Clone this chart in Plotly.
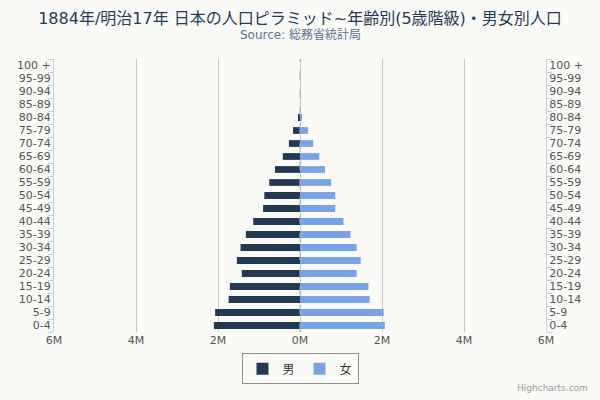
import plotly.graph_objects as go

# 5歳階級 (下から上へ)
age_groups = ["0-4", "5-9", "10-14", "15-19", "20-24", "25-29", "30-34",
              "35-39", "40-44", "45-49", "50-54", "55-59", "60-64", "65-69",
              "70-74", "75-79", "80-84", "85-89", "90-94", "95-99", "100 +"]

# 人口 (百万人) - 図から読み取り
male = [2.10, 2.07, 1.74, 1.71, 1.42, 1.54, 1.45, 1.32, 1.14, 0.90, 0.87,
        0.75, 0.61, 0.42, 0.27, 0.17, 0.04, 0.0, 0.0, 0.0, 0.0]
female = [2.07, 2.04, 1.70, 1.67, 1.38, 1.48, 1.38, 1.23, 1.06, 0.86, 0.86,
          0.76, 0.61, 0.47, 0.32, 0.20, 0.05, 0.0, 0.0, 0.0, 0.0]

x_ticks = [-6, -4, -2, 0, 2, 4, 6]
x_labels = ["6M", "4M", "2M", "0M", "2M", "4M", "6M"]

font_main = "Lucida Grande, DejaVu Sans, Noto Sans CJK JP, sans-serif"
tick_font = dict(family=font_main, size=11, color="#555555")

fig = go.Figure()
fig.add_trace(go.Bar(
    y=age_groups, x=[-v * 1e6 for v in male], orientation="h",
    name="男", marker=dict(color="#223853", line=dict(width=0)),
    customdata=male, hovertemplate="%{y}: %{customdata}M<extra>男</extra>",
))
fig.add_trace(go.Bar(
    y=age_groups, x=[v * 1e6 for v in female], orientation="h",
    name="女", marker=dict(color="#7aa3e5", line=dict(width=0)),
    hovertemplate="%{y}: %{x}<extra>女</extra>",
))
# 右側の年齢軸用 (見えないトレース)
fig.add_trace(go.Scatter(
    y=age_groups, x=[0] * len(age_groups), yaxis="y2", mode="markers",
    marker=dict(opacity=0), showlegend=False, hoverinfo="skip",
))

yaxis_common = dict(
    type="category", categoryorder="array", categoryarray=age_groups,
    tickson="boundaries", ticks="outside", ticklen=5, tickcolor="#c0d0e0",
    showline=True, linecolor="#c0d0e0", linewidth=1, showgrid=False,
    tickfont=tick_font, range=[-0.5, len(age_groups) - 0.5],
)

fig.update_layout(
    width=600, height=400,
    barmode="relative", bargap=0.48,
    paper_bgcolor="#fafaf7", plot_bgcolor="#fafaf7",
    margin=dict(l=54, r=54, t=59, b=68),
    font=dict(family=font_main, color="#333333"),
    title=dict(
        text="1884年/明治17年 日本の人口ピラミッド~年齢別(5歳階級)・男女別人口",
        x=0.5, xanchor="center", y=0.955, yanchor="middle",
        font=dict(size=16, color="#253a55"),
    ),
    xaxis=dict(
        range=[-6e6, 6e6], tickvals=[v * 1e6 for v in x_ticks], ticktext=x_labels,
        showgrid=True, gridcolor="#c6c6cc", gridwidth=1,
        zeroline=False, showline=False, ticks="", tickfont=tick_font,
        fixedrange=True,
    ),
    yaxis=dict(side="left", **yaxis_common),
    yaxis2=dict(side="right", overlaying="y", matches="y", **yaxis_common),
    shapes=[dict(type="line", xref="x", yref="paper", x0=0, x1=0, y0=0, y1=1,
                 line=dict(color="#b0b0b8", width=1, dash="dash"))],
    legend=dict(
        orientation="h", x=0.5, xanchor="center", y=-0.135, yanchor="middle",
        bordercolor="#909090", borderwidth=1, bgcolor="rgba(0,0,0,0)",
        itemwidth=30,
        font=dict(family=font_main, size=12, color="#333333"),
    ),
    annotations=[
        dict(text="Source: 総務省統計局", xref="paper", yref="paper",
             x=0.5, y=1.088, xanchor="center", yanchor="middle", showarrow=False,
             font=dict(family=font_main, size=12, color="#5a7290")),
        dict(text="Highcharts.com", xref="paper", yref="paper", x=1.09, y=-0.23,
             xanchor="right", yanchor="bottom", showarrow=False,
             font=dict(family=font_main, size=9, color="#999999")),
    ],
)

fig.write_html("out.html", config={"displayModeBar": False},
               post_script="document.body.style.margin='0';")
